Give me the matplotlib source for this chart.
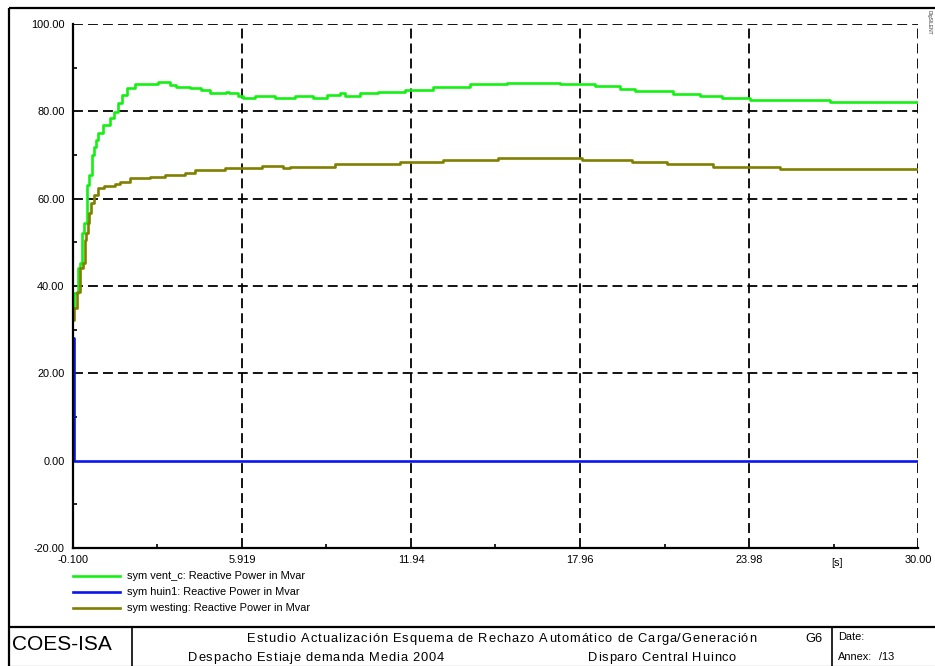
import matplotlib
matplotlib.use("Agg")
import matplotlib.pyplot as plt
from matplotlib.lines import Line2D
from matplotlib.font_manager import FontProperties

plt.rcParams['font.family'] = ['Liberation Sans', 'DejaVu Sans']

# ---------------- data ----------------
green_t = [-0.1, -0.064, 0.089, 0.149, 0.231, 0.292, 0.388, 0.47, 0.577, 0.648, 0.72, 0.79,
           0.97, 1.22, 1.36, 1.50, 1.65, 1.82, 2.11, 2.93, 3.36, 3.57, 4.07, 4.46, 4.78, 5.35,
           5.46, 5.78, 5.96, 6.38, 7.10, 7.81, 8.45, 8.95, 9.41, 9.59, 10.12, 10.77, 11.73,
           12.72, 14.04, 15.36, 17.25, 18.50, 19.39, 19.92, 21.28, 22.24, 23.02, 24.02, 26.87, 30.0]
green_v = [34.9, 38.5, 44.1, 45.3, 52.2, 54.4, 63.1, 65.4, 70.0, 71.9, 73.5, 75.0,
           76.9, 78.4, 79.9, 81.8, 83.7, 85.3, 86.3, 86.8, 86.0, 85.6, 85.3, 84.9, 84.1, 84.4,
           84.1, 83.6, 83.1, 83.5, 83.0, 83.5, 83.0, 83.7, 84.1, 83.6, 84.1, 84.5, 84.9,
           85.6, 86.3, 86.6, 86.3, 85.8, 85.1, 84.7, 84.0, 83.4, 83.0, 82.6, 82.1, 82.1]

blue_t = [-0.1, -0.05, 30.0]
blue_v = [28.0, 0.0, 0.0]

olive_t = [-0.1, -0.075, 0.04, 0.15, 0.256, 0.317, 0.363, 0.434, 0.47, 0.54, 0.648, 0.79,
           1.0, 1.40, 1.57, 1.93, 2.64, 3.18, 3.89, 4.25, 5.32, 6.63, 7.38, 7.63, 9.23,
           11.55, 13.08, 15.04, 18.03, 19.81, 21.06, 22.70, 25.09, 30.0]
olive_v = [32.2, 34.9, 38.7, 44.1, 45.3, 50.5, 52.1, 54.4, 56.7, 59.0, 60.8, 62.4,
           62.9, 63.3, 63.9, 64.7, 64.9, 65.4, 65.9, 66.6, 67.0, 67.5, 67.0, 67.3, 67.9,
           68.3, 68.9, 69.2, 68.9, 68.3, 67.9, 67.3, 66.9, 66.9]

series_labels = ["sym vent_c: Reactive Power in Mvar",
                 "sym huin1: Reactive Power in Mvar",
                 "sym westing: Reactive Power in Mvar"]
series_colors = ["#14f014", "#0a14f0", "#808000"]

x_ticks = [-0.1, 5.919, 11.94, 17.96, 23.98, 30.0]
x_ticklabels = ["-0.100", "5.919", "11.94", "17.96", "23.98", "30.00"]
y_ticks = [-20, 0, 20, 40, 60, 80, 100]
y_ticklabels = ["-20.00", "0.00", "20.00", "40.00", "60.00", "80.00", "100.00"]

title_line1 = "Estudio Actualización Esquema de Rechazo Automático de Carga/Generación"
title_line2a = "Despacho Estiaje demanda Media 2004"
title_line2b = "Disparo Central Huinco"

# ---------------- figure ----------------
W, H = 935, 666
fig = plt.figure(figsize=(W / 100, H / 100), dpi=100)


def fx(x):
    return x / W


def fy(y):
    return 1 - y / H


ax = fig.add_axes([fx(73), fy(548), fx(918) - fx(73), fy(24) - fy(548)])
ax.set_xlim(-0.1, 30.0)
ax.set_ylim(-20, 100)

lw = 1.9
ax.plot(green_t, green_v, drawstyle='steps-post', color=series_colors[0], lw=lw, zorder=3)
ax.plot(blue_t, blue_v, drawstyle='steps-post', color=series_colors[1], lw=lw, zorder=3)
ax.plot(olive_t, olive_v, drawstyle='steps-post', color=series_colors[2], lw=lw, zorder=4)

# grid (dashed black)
gkw = dict(color='black', lw=1.3, linestyle=(0, (5.5, 2.8)), zorder=2)
for yv in [20, 40, 60, 80, 100]:
    ax.axhline(yv, **gkw)
for xv in x_ticks[1:]:
    ax.axvline(xv, **gkw)

for s in ['top', 'right']:
    ax.spines[s].set_visible(False)
for s in ['left', 'bottom']:
    ax.spines[s].set_linewidth(1.6)
    ax.spines[s].set_zorder(5)

ax.set_xticks(x_ticks)
ax.set_xticklabels(x_ticklabels)
ax.set_yticks(y_ticks)
ax.set_yticklabels(y_ticklabels)
ax.set_xticks([(x_ticks[i] + x_ticks[i + 1]) / 2 for i in range(5)], minor=True)
ax.set_yticks([-10, 10, 30, 50, 70, 90], minor=True)
ax.tick_params(which='both', direction='in', length=3, width=1.2, labelsize=7.9, colors='black')
ax.tick_params(axis='y', which='major', length=0, pad=6)
ax.tick_params(axis='x', which='major', length=0, pad=5)
ax.tick_params(axis='x', which='minor', length=3)
ax.patch.set_alpha(0)

fig.text(fx(837), fy(563), "[s]", fontsize=7.9, ha='center', va='center')

# legend
leg_y = [576, 592, 608]
for i, (lab, col) in enumerate(zip(series_labels, series_colors)):
    fig.add_artist(Line2D([fx(73), fx(120)], [fy(leg_y[i]), fy(leg_y[i])], color=col, lw=1.9))
    fig.text(fx(127), fy(leg_y[i]), lab, fontsize=7.9, ha='left', va='center')


# frame and title block
def fline(x0, y0, x1, y1, lw_=1.5):
    fig.add_artist(Line2D([fx(x0), fx(x1)], [fy(y0), fy(y1)], color='black', lw=lw_,
                          solid_capstyle='butt'))


fline(9, 8, 935, 8, 1.6)
fline(9, 8, 9, 666, 1.6)
fline(9, 627, 935, 627, 1.6)
fline(132, 627, 132, 666, 1.2)
fline(832, 627, 832, 666, 1.2)
fline(9, 665.5, 935, 665.5, 0.8)

renderer = fig.canvas.get_renderer()


def spaced_text(s, x0, x1, y, size):
    """Place string s between pixel x0 and x1 with uniform letter spacing."""
    prop = FontProperties(family=['Liberation Sans', 'DejaVu Sans'], size=size)
    widths = []
    for ch in s:
        w, h, d = renderer.get_text_width_height_descent(ch if ch != ' ' else 'i', prop, ismath=False)
        if ch == ' ':
            w2, _, _ = renderer.get_text_width_height_descent('a a', prop, ismath=False)
            w3, _, _ = renderer.get_text_width_height_descent('aa', prop, ismath=False)
            w = w2 - w3
        widths.append(w)
    total = sum(widths)
    gap = (x1 - x0 - total) / max(len(s) - 1, 1)
    x = x0
    for ch, w in zip(s, widths):
        if ch != ' ':
            fig.text(fx(x), fy(y), ch, fontproperties=prop, ha='left', va='baseline')
        x += w + gap


spaced_text(title_line1, 247, 756, 642, 9.3)
spaced_text(title_line2a, 188, 444, 661, 9.3)
spaced_text(title_line2b, 588, 736, 661, 9.3)

fig.text(fx(12), fy(645), "COES-ISA", fontsize=15, ha='left', va='center')
fig.text(fx(814), fy(642), "G6", fontsize=9.3, ha='center', va='baseline')
fig.text(fx(838), fy(637), "Date:", fontsize=7.9, ha='left', va='center')
fig.text(fx(838), fy(657), "Annex:", fontsize=7.9, ha='left', va='center')
fig.text(fx(879), fy(657), "/13", fontsize=7.9, ha='left', va='center')
fig.text(fx(929), fy(10), "DIgSILENT", fontsize=3.5, ha='center', va='top', rotation=-90, color='#333333')

fig.savefig("out.png", dpi=100)
